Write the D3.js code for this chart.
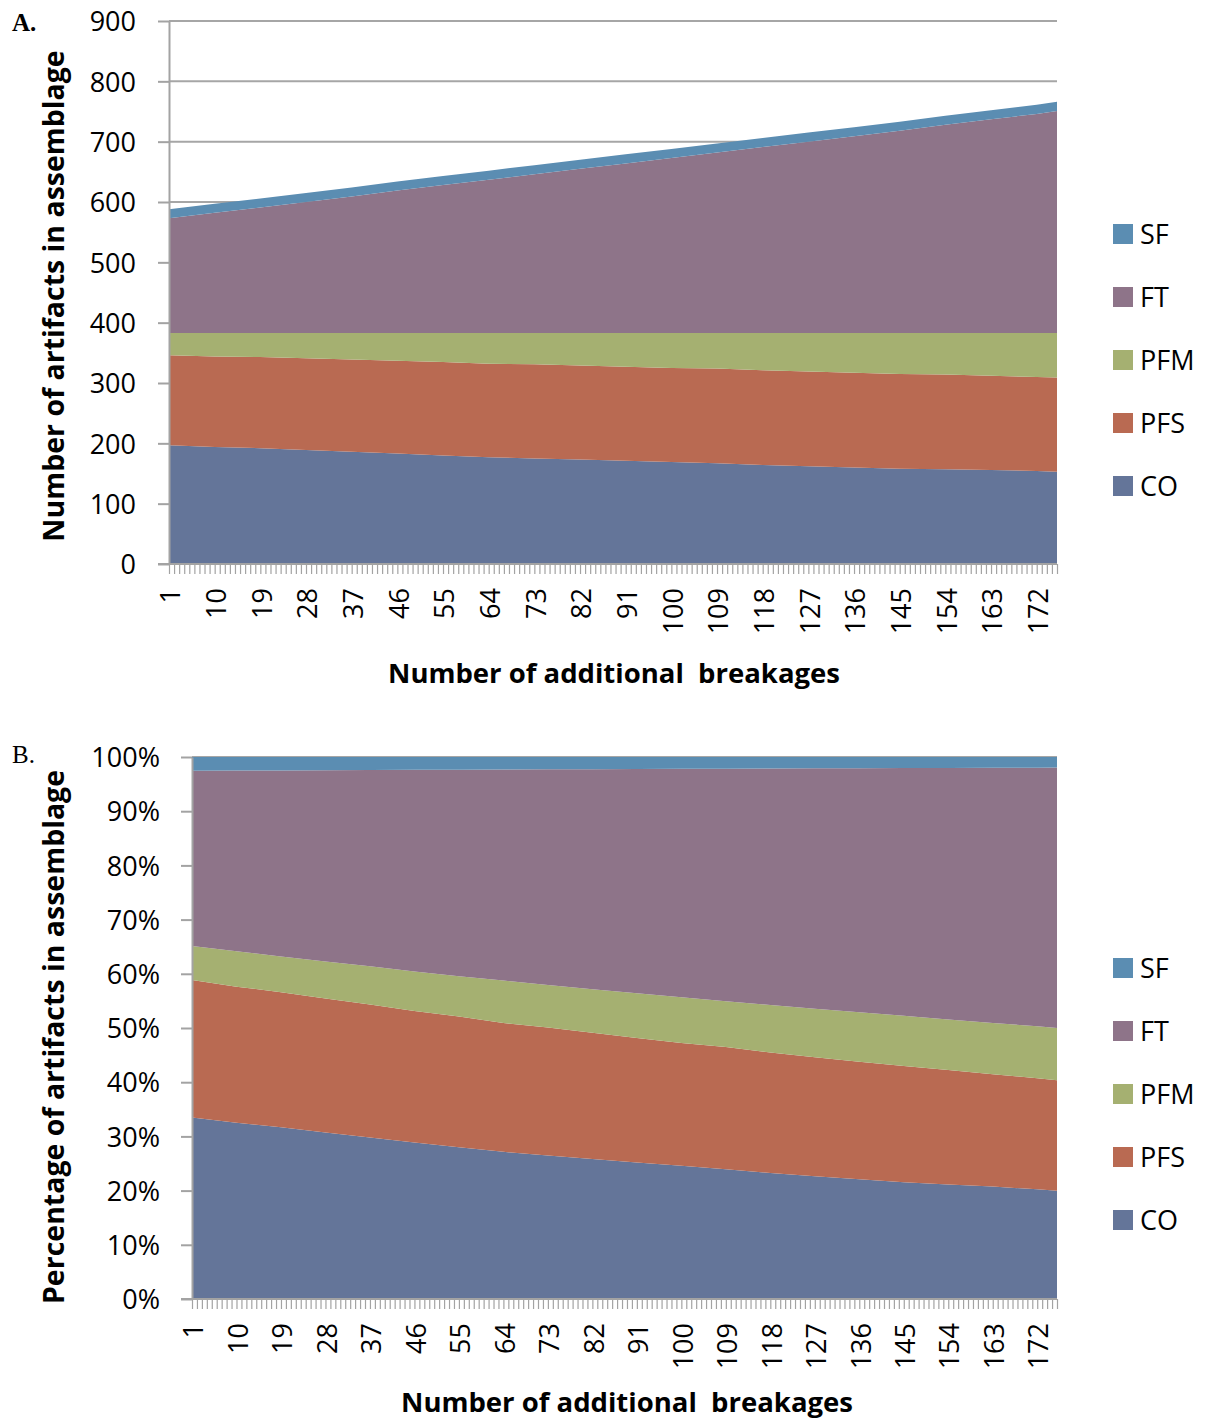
<!DOCTYPE html>
<html>
<head>
<meta charset="utf-8">
<script src="https://cdn.jsdelivr.net/npm/d3@7"></script>
<style>
  body { margin: 0; background: #fff; }
  svg text { font-family: "Open Sans", "Noto Sans", sans-serif; fill: #000; }
  .axis path, .axis line { stroke: #a3a3a3; stroke-width: 2; }
  .grid line { stroke: #a6a6a6; stroke-width: 2; }
</style>
</head>
<body>
<div id="chart"></div>
<script>
// number of additional breakages (values read at the labelled categories)
var breakages = [1, 10, 19, 28, 37, 46, 55, 64, 73, 82, 91, 100, 109, 118, 127, 136, 145, 154, 163, 172, 176];

// artifacts per class
var CO  = [197, 194, 192, 189, 186, 183, 180, 177, 175, 173, 171, 169, 167, 164, 162, 160, 158, 157, 156, 154, 153];
var PFS = [149, 150, 151, 152, 153, 154, 155, 155, 156, 156, 156, 156, 157, 157, 157, 157, 157, 157, 156, 156, 156];
var PFM = [37, 39, 40, 42, 44, 46, 48, 51, 52, 54, 56, 58, 59, 62, 64, 66, 68, 69, 71, 73, 74];
var FT  = [190, 199, 208, 217, 226, 236, 245, 254, 263, 272, 281, 290, 299, 308, 317, 326, 335, 345, 354, 363, 368];
var SF  = [15, 15, 15, 15, 15, 15, 15, 15, 15, 15, 15, 15, 15, 15, 15, 15, 15, 15, 15, 15, 15];

var seriesKeys = ["CO", "PFS", "PFM", "FT", "SF"];
var legendKeys = ["SF", "FT", "PFM", "PFS", "CO"];
var colors = ["#647599", "#b96a52", "#a5b071", "#8e7489", "#5b8db2"];

var xTickLabels = [1, 10, 19, 28, 37, 46, 55, 64, 73, 82, 91, 100, 109, 118, 127, 136, 145, 154, 163, 172];
var lastCategory = 176;
var countTicks = [0, 100, 200, 300, 400, 500, 600, 700, 800, 900];
var pctTicks = [0, 0.1, 0.2, 0.3, 0.4, 0.5, 0.6, 0.7, 0.8, 0.9, 1];

var tableData = breakages.map(function(b, i) {
    return { breakage: b, CO: CO[i], PFS: PFS[i], PFM: PFM[i], FT: FT[i], SF: SF[i] };
});

var colorScale = d3.scaleOrdinal().domain(seriesKeys).range(colors);

var svg = d3.select("#chart").append("svg")
    .attr("width", 1210)
    .attr("height", 1423);

StackedAreaChart = function(_opts) {
    this.opts = _opts;
    this.initVis();
}

StackedAreaChart.prototype.initVis = function() {
    var vis = this;
    var o = vis.opts;

    vis.margin = o.margin;
    vis.width = o.width;
    vis.height = o.height;

    vis.g = svg.append("g")
        .attr("transform", "translate(" + vis.margin.left + "," + vis.margin.top + ")");

    vis.x = d3.scaleLinear()
        .domain([1, lastCategory])
        .range([0, vis.width]);

    vis.y = d3.scaleLinear()
        .domain(o.yDomain)
        .range([vis.height, 0]);

    var stack = d3.stack().keys(seriesKeys);
    if (o.expand) stack.offset(d3.stackOffsetExpand);
    vis.stackedData = stack(tableData);

    vis.area = d3.area()
        .x(function(d) { return vis.x(d.data.breakage); })
        .y0(function(d) { return vis.y(d[0]); })
        .y1(function(d) { return vis.y(d[1]); });

    // gridlines
    vis.g.append("g").attr("class", "grid")
        .selectAll("line")
        .data(o.gridTicks)
        .enter().append("line")
        .attr("x1", 0)
        .attr("x2", vis.width)
        .attr("y1", function(d) { return vis.y(d); })
        .attr("y2", function(d) { return vis.y(d); });

    vis.g.selectAll(".layer")
        .data(vis.stackedData)
        .enter().append("path")
        .attr("class", "layer")
        .attr("fill", function(d) { return colorScale(d.key); })
        .attr("d", vis.area);

    // y axis
    var yAxis = d3.axisLeft(vis.y)
        .tickValues(o.yTicks)
        .tickSize(11)
        .tickSizeOuter(0)
        .tickPadding(o.yPad)
        .tickFormat(o.yFormat);

    vis.g.append("g")
        .attr("class", "y-axis axis")
        .call(yAxis)
        .call(function(g) {
            g.selectAll("text").style("font-size", "27px").attr("dy", "0.36em");
        });

    // x axis: a tick on every category, labels every 9th
    var xAxis = d3.axisBottom(vis.x)
        .tickValues(d3.range(1, lastCategory + 1))
        .tickSize(10)
        .tickSizeOuter(0)
        .tickFormat(function(d) { return xTickLabels.indexOf(d) >= 0 ? d : ""; });

    var xg = vis.g.append("g")
        .attr("class", "x-axis axis")
        .attr("transform", "translate(0," + vis.height + ")")
        .call(xAxis);

    xg.selectAll(".tick line").style("stroke-width", 1.2);
    xg.select(".domain").attr("d", "M" + (-11) + ",0H" + vis.width);

    xg.selectAll("text")
        .style("font-size", "27px")
        .attr("text-anchor", "end")
        .attr("transform", "rotate(-90)")
        .attr("x", -o.xLabelGap)
        .attr("y", 1)
        .attr("dy", "0.36em");

    // axis titles
    vis.g.append("text")
        .attr("transform", "translate(" + o.yTitleX + "," + o.yTitleY + ") rotate(-90)")
        .attr("text-anchor", "middle")
        .style("font-size", "28.5px")
        .style("font-weight", "bold")
        .text(o.yTitle);

    vis.g.append("text")
        .attr("x", o.xTitleX)
        .attr("y", o.xTitleY)
        .attr("text-anchor", "middle")
        .style("font-size", "27.5px")
        .style("font-weight", "bold")
        .attr("xml:space", "preserve")
        .text("Number of additional  breakages");

    // panel letter
    svg.append("text")
        .attr("x", 12)
        .attr("y", o.letterY)
        .style("font-family", "'Liberation Serif', 'DejaVu Serif', serif")
        .style("font-size", "25px")
        .style("font-weight", o.letterBold ? "bold" : "normal")
        .text(o.letter);

    // legend
    var legend = svg.append("g")
        .attr("transform", "translate(1113," + o.legendTop + ")");

    var items = legend.selectAll(".legend-item")
        .data(legendKeys)
        .enter().append("g")
        .attr("class", "legend-item")
        .attr("transform", function(d, i) { return "translate(0," + (i * 63) + ")"; });

    items.append("rect")
        .attr("x", 0)
        .attr("y", -10)
        .attr("width", 20)
        .attr("height", 20)
        .attr("fill", function(d) { return colorScale(d); });

    items.append("text")
        .attr("x", 27)
        .attr("y", 0)
        .attr("dy", "0.36em")
        .style("font-size", "27px")
        .text(function(d) { return d; });
}

var chartA = new StackedAreaChart({
    margin: { left: 169, top: 21 },
    width: 888,
    height: 543,
    yDomain: [0, 900],
    yTicks: countTicks,
    gridTicks: countTicks.slice(1),
    yFormat: d3.format("d"),
    yPad: 22,
    xLabelGap: 24,
    yTitle: "Number of artifacts in assemblage",
    yTitleX: -105,
    yTitleY: 275,
    xTitleX: 445,
    xTitleY: 662,
    letter: "A.",
    letterY: 31,
    letterBold: true,
    legendTop: 234
});

var chartB = new StackedAreaChart({
    expand: true,
    margin: { left: 192, top: 757 },
    width: 865,
    height: 542,
    yDomain: [0, 1],
    yTicks: pctTicks,
    gridTicks: [1],
    yFormat: d3.format(".0%"),
    yPad: 21,
    xLabelGap: 24,
    yTitle: "Percentage of artifacts in assemblage",
    yTitleX: -128,
    yTitleY: 280,
    xTitleX: 435,
    xTitleY: 655,
    letter: "B.",
    letterY: 763,
    letterBold: false,
    legendTop: 968
});
</script>
</body>
</html>
